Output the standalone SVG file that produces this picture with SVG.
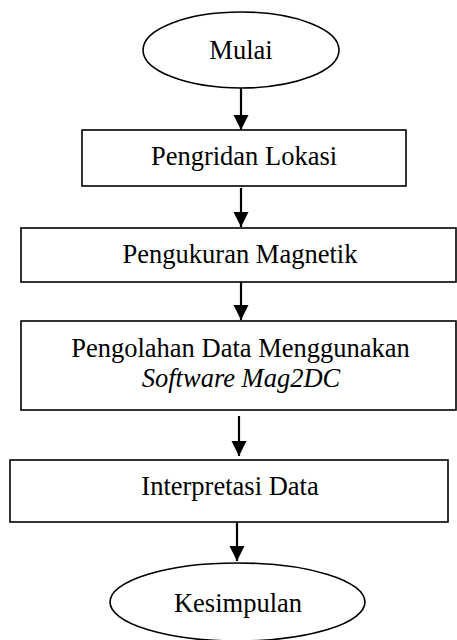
<svg xmlns="http://www.w3.org/2000/svg" width="457" height="640" viewBox="0 0 457 640">
<defs>
<style>
.shape{fill:#fff;stroke:#000;stroke-width:1.6}
.lbl{font-family:"Liberation Serif","Times New Roman",serif;font-size:26.5px;fill:#000;text-anchor:middle}
.it{font-style:italic}
.conn{stroke:#000;stroke-width:2.2;fill:none;marker-end:url(#ah)}
</style>
<marker id="ah" viewBox="0 0 10 10" refX="10" refY="5" markerUnits="userSpaceOnUse" markerWidth="15" markerHeight="16" orient="auto">
<path d="M0,0 L10,5 L0,10 Z" fill="#000"/>
</marker>
</defs>
<rect width="457" height="640" fill="#fff"/>
<g id="connectors">
<line class="conn" x1="241" y1="88" x2="241" y2="130"/>
<line class="conn" x1="241" y1="188" x2="241" y2="227"/>
<line class="conn" x1="241" y1="282" x2="241" y2="320"/>
<line class="conn" x1="239" y1="416" x2="239" y2="456"/>
<line class="conn" x1="237" y1="522" x2="237" y2="561"/>
</g>
<g id="mulai">
<ellipse class="shape" cx="241" cy="50" rx="98" ry="38"/>
<text class="lbl" x="241" y="59">Mulai</text>
</g>
<g id="pengridan">
<rect class="shape" x="82" y="130" width="324" height="56"/>
<text class="lbl" x="244" y="165">Pengridan Lokasi</text>
</g>
<g id="pengukuran">
<rect class="shape" x="21" y="228" width="435" height="54"/>
<text class="lbl" x="240" y="263">Pengukuran Magnetik</text>
</g>
<g id="pengolahan">
<rect class="shape" x="21" y="321" width="435" height="89"/>
<text class="lbl" x="240.5" y="357">Pengolahan Data Menggunakan</text>
<text class="lbl it" x="241" y="387">Software Mag2DC</text>
</g>
<g id="interpretasi">
<rect class="shape" x="10" y="460" width="438" height="62"/>
<text class="lbl" x="230" y="495">Interpretasi Data</text>
</g>
<g id="kesimpulan">
<ellipse class="shape" cx="237.5" cy="602" rx="127.5" ry="39"/>
<text class="lbl" x="238" y="612">Kesimpulan</text>
</g>
</svg>
